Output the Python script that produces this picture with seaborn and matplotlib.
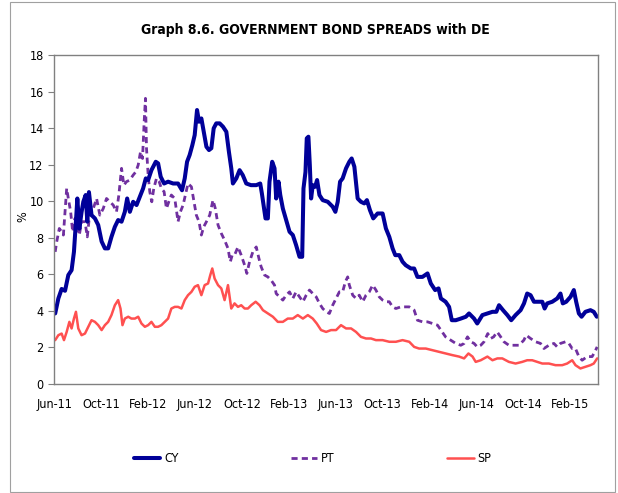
# government bond spreads vs DE, CY / PT / SP
import pandas as pd
import numpy as np
import seaborn as sns
import matplotlib.pyplot as plt
import matplotlib.dates as mdates
from matplotlib.patches import Rectangle

# months since 1 Jun 2011, and spread in %
cy_month = [0.1, 0.37, 0.65, 0.94, 1.22, 1.5, 1.7, 1.87, 1.99, 2.16, 2.35, 2.5, 2.7, 2.84, 2.98,
            3.2, 3.49, 3.77, 4.06, 4.34, 4.62, 4.9, 5.19, 5.47, 5.76, 6.04, 6.24, 6.47, 6.75, 7.04,
            7.32, 7.6, 7.83, 8.03, 8.31, 8.68, 8.88, 9.1, 9.39, 9.73, 10.16, 10.58, 10.92, 11.15,
            11.35, 11.57, 11.8, 12.0, 12.2, 12.37, 12.57, 12.77, 13.0, 13.22, 13.42, 13.62, 13.84,
            14.13, 14.41, 14.7, 14.92, 15.12, 15.26, 15.55, 15.83, 16.1, 16.4, 16.8, 17.25, 17.59,
            17.73, 17.9, 18.04, 18.24, 18.38, 18.61, 18.81, 18.95, 19.15, 19.3, 19.52, 19.8, 20.09,
            20.37, 20.65, 20.94, 21.17, 21.28, 21.45, 21.56, 21.7, 21.82, 21.93, 22.07, 22.27, 22.44,
            22.64, 22.92, 23.35, 23.77, 24.0, 24.2, 24.4, 24.62, 24.91, 25.19, 25.39, 25.62, 25.9,
            26.18, 26.47, 26.69, 26.95, 27.23, 27.6, 28.03, 28.31, 28.6, 28.88, 29.11, 29.45, 29.73,
            30.0, 30.44, 30.72, 31.0, 31.43, 31.86, 32.14, 32.51, 32.8, 33.0, 33.4, 33.7, 33.93,
            34.27, 34.7, 35.13, 35.4, 35.83, 36.1, 36.54, 36.97, 37.4, 37.73, 37.96, 38.3, 38.67,
            39.0, 39.37, 39.8, 40.09, 40.36, 40.65, 40.94, 41.36, 41.65, 41.85, 42.07, 42.5, 42.92,
            43.2, 43.4, 43.69, 44.06, 44.34, 44.54, 44.77, 45.0, 45.33, 45.76, 46.04, 46.3]
cy_value = [3.86, 4.68, 5.2, 5.1, 5.96, 6.23, 7.23, 8.88, 10.15, 8.5, 9.4, 9.97, 10.34, 8.88, 10.5,
            9.24, 9.06, 8.7, 7.8, 7.42, 7.42, 8.05, 8.6, 8.97, 8.88, 9.42, 10.15, 9.42, 9.97, 9.79,
            10.24, 10.7, 11.25, 11.16, 11.7, 12.16, 12.07, 11.34, 10.97, 11.07, 10.97, 10.97, 10.6,
            11.25, 12.16, 12.53, 13.07, 13.62, 14.99, 14.35, 14.53, 13.8, 12.98, 12.8, 12.9, 13.99,
            14.26, 14.26, 14.08, 13.8, 12.7, 11.8, 10.97, 11.25, 11.7, 11.43, 10.97, 10.88, 10.88,
            10.97, 10.43, 9.7, 9.06, 9.06, 11.07, 12.16, 11.8, 10.15, 11.07, 10.34, 9.6, 8.97, 8.33,
            8.15, 7.6, 6.96, 6.96, 10.7, 11.6, 13.44, 13.53, 11.98, 10.15, 10.88, 10.79, 11.16,
            10.34, 10.06, 9.97, 9.7, 9.42, 9.97, 11.07, 11.25, 11.8, 12.16, 12.34, 11.89, 10.15,
            9.97, 9.88, 10.06, 9.51, 9.06, 9.33, 9.33, 8.51, 8.05, 7.42, 7.05, 7.05, 6.69, 6.5,
            6.32, 6.32, 5.86, 5.86, 6.05, 5.5, 5.14, 5.23, 4.68, 4.5, 4.22, 3.49, 3.49, 3.58, 3.68,
            3.86, 3.58, 3.31, 3.77, 3.86, 3.95, 3.95, 4.31, 4.04, 3.77, 3.49, 3.77, 4.04, 4.41, 4.95,
            4.86, 4.5, 4.5, 4.5, 4.13, 4.41, 4.5, 4.68, 4.95, 4.41, 4.5, 4.77, 5.14, 4.5, 3.86, 3.68,
            3.95, 4.04, 3.95, 3.68]

pt_month = [0.1, 0.23, 0.45, 0.65, 0.8, 0.94, 1.08, 1.22, 1.42, 1.59, 1.79, 1.93, 2.16, 2.35, 2.64,
            2.84, 3.06, 3.35, 3.63, 3.91, 4.2, 4.48, 4.77, 5.05, 5.33, 5.53, 5.76, 5.96, 6.18, 6.47,
            6.75, 6.98, 7.18, 7.38, 7.55, 7.69, 7.8, 7.89, 8.03, 8.17, 8.34, 8.51, 8.74, 8.97, 9.16,
            9.39, 9.59, 9.79, 10.01, 10.3, 10.58, 10.78, 11.01, 11.21, 11.43, 11.72, 11.94, 12.14,
            12.37, 12.57, 12.77, 13.0, 13.28, 13.56, 13.76, 13.99, 14.27, 14.55, 14.84, 15.04, 15.2,
            15.4, 15.69, 15.97, 16.26, 16.45, 16.68, 16.96, 17.25, 17.48, 17.67, 17.96, 18.24, 18.52,
            18.81, 18.95, 19.23, 19.52, 19.8, 20.09, 20.37, 20.65, 20.94, 21.23, 21.51, 21.79, 22.07,
            22.36, 22.64, 22.92, 23.21, 23.49, 23.77, 24.06, 24.34, 24.62, 24.85, 25.05, 25.19, 25.48,
            25.76, 26.04, 26.33, 26.61, 26.89, 27.18, 27.46, 27.74, 28.03, 28.31, 28.6, 28.88, 29.16,
            29.59, 30.0, 30.3, 30.72, 31.0, 31.43, 31.86, 32.28, 32.71, 33.0, 33.4, 33.83, 34.27,
            34.7, 34.98, 35.27, 35.55, 35.83, 36.1, 36.4, 36.68, 37.0, 37.25, 37.5, 37.8, 38.1, 38.38,
            38.8, 39.23, 39.66, 40.08, 40.28, 40.65, 41.08, 41.5, 41.79, 42.21, 42.64, 42.92, 43.2,
            43.63, 43.92, 44.2, 44.48, 44.77, 45.05, 45.48, 45.9, 46.13, 46.33]
pt_value = [7.23, 7.78, 8.51, 8.33, 8.15, 9.42, 10.7, 10.15, 9.42, 8.33, 9.06, 8.7, 8.15, 8.88, 8.88,
            8.05, 9.42, 9.6, 10.15, 9.24, 9.6, 10.15, 9.97, 9.79, 9.42, 10.34, 11.8, 10.88, 11.07,
            11.16, 11.43, 11.61, 11.98, 12.71, 12.34, 14.35, 15.63, 12.89, 11.43, 10.52, 9.97, 10.7,
            11.25, 11.07, 10.7, 10.52, 9.6, 9.97, 10.34, 10.15, 8.88, 9.42, 9.79, 10.34, 10.97, 10.79,
            9.97, 9.24, 8.88, 8.15, 8.6, 8.88, 9.24, 10.06, 9.6, 8.7, 8.24, 7.87, 7.42, 6.69, 7.05,
            7.05, 7.5, 7.05, 6.5, 6.05, 6.69, 7.23, 7.5, 6.87, 6.41, 5.96, 5.86, 5.68, 5.41, 4.95,
            4.77, 4.59, 4.86, 5.04, 4.68, 5.04, 4.77, 4.5, 4.86, 5.14, 4.95, 4.77, 4.41, 4.13, 3.95,
            3.86, 4.31, 4.68, 5.04, 5.04, 5.59, 5.86, 5.41, 4.86, 4.68, 4.86, 4.5, 4.86, 5.04, 5.41,
            5.14, 4.77, 4.59, 4.5, 4.5, 4.22, 4.13, 4.22, 4.22, 4.22, 4.04, 3.49, 3.4, 3.4, 3.31,
            3.22, 2.95, 2.58, 2.4, 2.22, 2.12, 2.22, 2.58, 2.31, 2.22, 2.03, 2.12, 2.31, 2.76, 2.49,
            2.58, 2.85, 2.58, 2.31, 2.12, 2.12, 2.12, 2.4, 2.67, 2.49, 2.31, 2.22, 1.94, 2.12, 2.22,
            2.03, 2.22, 2.31, 2.22, 1.94, 1.94, 1.5, 1.3, 1.5, 1.5, 1.76, 2.03]

sp_month = [0.1, 0.37, 0.65, 0.85, 1.08, 1.31, 1.5, 1.7, 1.87, 2.07, 2.35, 2.64, 2.92, 3.2, 3.49,
            3.77, 4.06, 4.34, 4.62, 4.9, 5.19, 5.47, 5.67, 5.84, 6.04, 6.33, 6.6, 6.9, 7.18, 7.46,
            7.75, 8.03, 8.31, 8.6, 8.88, 9.16, 9.45, 9.73, 10.01, 10.3, 10.58, 10.87, 11.15, 11.43,
            11.72, 12.0, 12.28, 12.57, 12.85, 13.14, 13.33, 13.5, 13.7, 13.99, 14.27, 14.55, 14.84,
            15.12, 15.4, 15.69, 15.97, 16.26, 16.54, 16.82, 17.2, 17.53, 17.82, 18.24, 18.67, 19.09,
            19.52, 19.94, 20.37, 20.79, 21.23, 21.65, 22.07, 22.41, 22.78, 23.21, 23.63, 24.06, 24.48,
            24.91, 25.34, 25.76, 26.18, 26.61, 27.04, 27.46, 28.03, 28.6, 29.16, 29.73, 30.3, 30.72,
            31.14, 31.71, 32.28, 32.85, 33.4, 33.98, 34.55, 34.98, 35.35, 35.7, 35.97, 36.4, 36.97,
            37.4, 37.82, 38.24, 38.8, 39.37, 39.94, 40.36, 40.79, 41.22, 41.65, 42.21, 42.78, 43.35,
            43.77, 44.2, 44.48, 44.9, 45.33, 45.76, 46.04, 46.33]
sp_value = [2.4, 2.67, 2.76, 2.4, 2.85, 3.4, 3.04, 3.58, 3.95, 3.04, 2.67, 2.76, 3.13, 3.49, 3.4,
            3.22, 2.95, 3.22, 3.4, 3.77, 4.31, 4.59, 4.13, 3.22, 3.58, 3.68, 3.58, 3.58, 3.68, 3.31,
            3.13, 3.22, 3.4, 3.13, 3.13, 3.22, 3.4, 3.58, 4.13, 4.22, 4.22, 4.13, 4.59, 4.86, 5.04,
            5.32, 5.41, 4.86, 5.41, 5.5, 5.96, 6.32, 5.77, 5.41, 5.23, 4.59, 5.41, 4.13, 4.41, 4.22,
            4.31, 4.13, 4.13, 4.31, 4.5, 4.31, 4.04, 3.86, 3.68, 3.4, 3.4, 3.58, 3.58, 3.77, 3.58,
            3.77, 3.58, 3.31, 2.95, 2.85, 2.95, 2.95, 3.22, 3.04, 3.04, 2.85, 2.58, 2.49, 2.49, 2.4,
            2.4, 2.31, 2.31, 2.4, 2.31, 2.03, 1.94, 1.94, 1.85, 1.76, 1.67, 1.58, 1.5, 1.4, 1.67,
            1.5, 1.21, 1.3, 1.5, 1.3, 1.4, 1.4, 1.21, 1.12, 1.21, 1.3, 1.3, 1.21, 1.12, 1.12, 1.03,
            1.03, 1.12, 1.3, 1.03, 0.85, 0.94, 1.03, 1.12, 1.4]

series_names = ['CY', 'PT', 'SP']
series_colors = {'CY': '#000099', 'PT': '#7030A0', 'SP': '#FF5050'}

start = pd.Timestamp('2011-06-01')

def to_dates(months):
    return start + pd.to_timedelta(np.array(months) * 30.44, unit='D')

frames = []
for name, m, v in [('CY', cy_month, cy_value), ('PT', pt_month, pt_value), ('SP', sp_month, sp_value)]:
    frames.append(pd.DataFrame({'date': to_dates(m), 'value': v, 'series': name}))
df = pd.concat(frames, ignore_index=True)

sns.set_style('white')
plt.rcParams['font.family'] = ['DejaVu Sans']
plt.rcParams['font.stretch'] = 'condensed'
plt.rcParams['text.color'] = 'black'
plt.rcParams['xtick.color'] = 'black'
plt.rcParams['ytick.color'] = 'black'
plt.rcParams['axes.labelcolor'] = 'black'

fig = plt.figure(figsize=(6.18, 4.93), dpi=100)
ax = fig.add_axes([0.0874, 0.2211, 0.8802, 0.6673])

sns.lineplot(data=df[df.series == 'SP'], x='date', y='value', color=series_colors['SP'],
             linewidth=1.8, ax=ax, label='SP', estimator=None, sort=False)
sns.lineplot(data=df[df.series == 'PT'], x='date', y='value', color=series_colors['PT'],
             linewidth=2.0, ax=ax, label='PT', estimator=None, sort=False)
sns.lineplot(data=df[df.series == 'CY'], x='date', y='value', color=series_colors['CY'],
             linewidth=2.9, ax=ax, label='CY', estimator=None, sort=False)
ax.lines[1].set_linestyle((0, (2.2, 1.5)))

ax.set_xlim(start, start + pd.Timedelta(days=46.4 * 30.44))
ax.set_ylim(0, 18)
ax.set_yticks(range(0, 19, 2))
ax.xaxis.set_major_locator(mdates.MonthLocator(bymonth=[2, 6, 10]))
ax.xaxis.set_major_formatter(mdates.DateFormatter('%b-%y'))
ax.tick_params(axis='x', length=0, labelsize=9, pad=10)
ax.tick_params(axis='y', length=4, width=0.8, color='#808080', labelsize=9, direction='out', left=True)
ax.set_xlabel('')
ax.set_ylabel('%', fontsize=9)
ax.yaxis.set_label_coords(-0.045, 0.51)
for s in ax.spines.values():
    s.set_visible(True)
    s.set_color('#808080')
    s.set_linewidth(1.0)

ax.get_legend().remove()
handles, labels = ax.get_legend_handles_labels()
order = [labels.index(n) for n in series_names]
fig.legend([handles[i] for i in order], series_names, loc='center', bbox_to_anchor=(0.506, 0.069),
           ncol=3, frameon=False, fontsize=9, handlelength=2.1, handletextpad=0.3, columnspacing=9.0)

fig.text(0.51, 0.94, 'Graph 8.6. GOVERNMENT BOND SPREADS with DE', ha='center', va='center',
         fontsize=10, fontweight='bold')

fig.patches.append(Rectangle((0.016, 0.003), 0.979, 0.992, transform=fig.transFigure,
                             fill=False, edgecolor='#A0A0A0', linewidth=0.8))

fig.savefig('out.png', dpi=100)
